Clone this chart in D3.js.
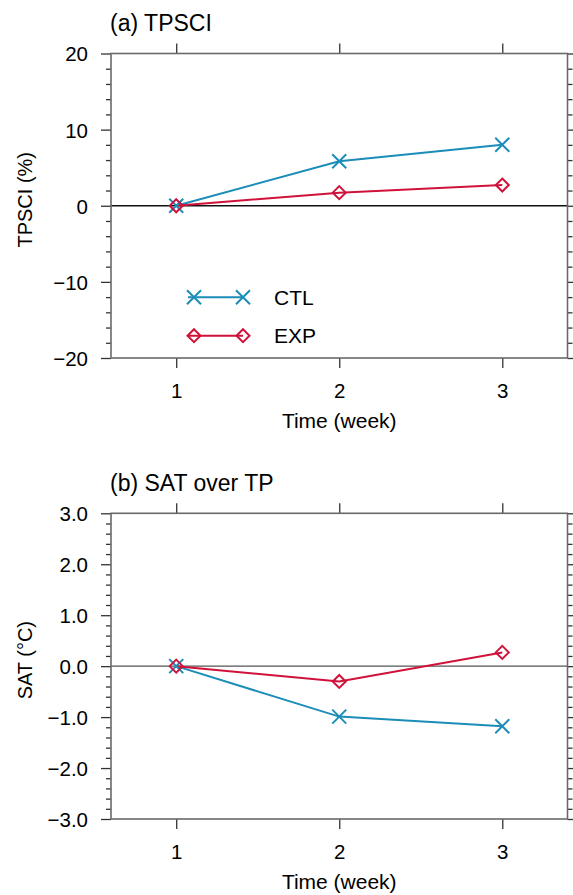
<!DOCTYPE html>
<html>
<head>
<meta charset="utf-8">
<script src="https://cdn.jsdelivr.net/npm/d3@7"></script>
<style>
  html, body { margin: 0; padding: 0; background: #fff; }
  svg { display: block; font-family: "Liberation Sans", Arial, Helvetica, sans-serif; }
</style>
</head>
<body>
<svg id="chart" width="573" height="895"></svg>
<script>
// ---------------- data ----------------
const weeks = [1, 2, 3];
const xTickLabels = ["1", "2", "3"];
const seriesNames = ["CTL", "EXP"];

const tpsciCTL = [0, 5.84, 8.02];
const tpsciEXP = [0, 1.72, 2.72];
const tpsciTicks = [-20, -10, 0, 10, 20];
const tpsciTickLabels = ["\u221220", "\u221210", "0", "10", "20"];

const satCTL = [0, -0.99, -1.18];
const satEXP = [0, -0.30, 0.27];
const satTicks = [-3, -2, -1, 0, 1, 2, 3];
const satTickLabels = ["\u22123.0", "\u22122.0", "\u22121.0", "0.0", "1.0", "2.0", "3.0"];

// ---------------- styles ----------------
const colCTL = "#1b8db8";
const colEXP = "#d0123b";
const frameCol = "#6a6a6a";
const tickCol = "#333";

const svg = d3.select("#chart");

const left = 111, right = 567.5;
const x = d3.scaleLinear().domain([0.6, 3.4]).range([left, right]);

function xMarker(g, cx, cy, color) {
  const s = 7;
  g.append("path")
    .attr("d", `M${cx - s},${cy - s}L${cx + s},${cy + s}M${cx - s},${cy + s}L${cx + s},${cy - s}`)
    .attr("stroke", color).attr("stroke-width", 2).attr("fill", "none");
}
function diamond(g, cx, cy, color) {
  const s = 6.5;
  g.append("path")
    .attr("d", `M${cx},${cy - s}L${cx + s},${cy}L${cx},${cy + s}L${cx - s},${cy}Z`)
    .attr("stroke", color).attr("stroke-width", 2).attr("fill", "none");
}

function panel(opts) {
  const { top, bottom, domain, ticks, tickLabels, minorStep, ctl, exp, title, ylabel, zeroCol, legend } = opts;
  const y = d3.scaleLinear().domain(domain).range([bottom, top]);
  const g = svg.append("g");

  const minors = d3.range(domain[0], domain[1] + 1e-9, minorStep)
    .filter(v => !ticks.some(t => Math.abs(t - v) < 1e-6));

  // zero line
  g.append("line")
    .attr("x1", left).attr("x2", right)
    .attr("y1", y(0)).attr("y2", y(0))
    .attr("stroke", zeroCol).attr("stroke-width", 1.3);

  // Left axis
  const yAxisL = d3.axisLeft(y).tickValues(ticks).tickSize(10).tickFormat((d, i) => tickLabels[i]);
  const gl = g.append("g").attr("transform", `translate(${left},0)`).call(yAxisL);
  gl.select(".domain").remove();
  gl.selectAll(".tick line").attr("stroke", tickCol).attr("stroke-width", 1.3);
  gl.selectAll(".tick text").attr("x", -23).attr("dy", "0.36em")
    .attr("font-size", 20.5).attr("fill", "#000")
    .attr("font-family", "'Liberation Sans', Arial, sans-serif");
  const gml = g.append("g").attr("transform", `translate(${left},0)`)
    .call(d3.axisLeft(y).tickValues(minors).tickSize(5).tickFormat(""));
  gml.select(".domain").remove();
  gml.selectAll(".tick line").attr("stroke", tickCol).attr("stroke-width", 1.3);

  // Right axis
  const gr = g.append("g").attr("transform", `translate(${right},0)`)
    .call(d3.axisRight(y).tickValues(ticks).tickSize(10).tickFormat(""));
  gr.select(".domain").remove();
  gr.selectAll(".tick line").attr("stroke", tickCol).attr("stroke-width", 1.3);
  const gmr = g.append("g").attr("transform", `translate(${right},0)`)
    .call(d3.axisRight(y).tickValues(minors).tickSize(5).tickFormat(""));
  gmr.select(".domain").remove();
  gmr.selectAll(".tick line").attr("stroke", tickCol).attr("stroke-width", 1.3);

  // Bottom axis
  const gb = g.append("g").attr("transform", `translate(0,${bottom})`)
    .call(d3.axisBottom(x).tickValues(weeks).tickSize(10).tickFormat((d, i) => xTickLabels[i]));
  gb.select(".domain").remove();
  gb.selectAll(".tick line").attr("stroke", tickCol).attr("stroke-width", 1.3);
  gb.selectAll(".tick text").attr("y", 40).attr("dy", 0)
    .attr("font-size", 20.5).attr("fill", "#000")
    .attr("font-family", "'Liberation Sans', Arial, sans-serif");

  // Top axis
  const gt = g.append("g").attr("transform", `translate(0,${top})`)
    .call(d3.axisTop(x).tickValues(weeks).tickSize(10).tickFormat(""));
  gt.select(".domain").remove();
  gt.selectAll(".tick line").attr("stroke", tickCol).attr("stroke-width", 1.3);

  // frame
  g.append("rect")
    .attr("x", left).attr("y", top)
    .attr("width", right - left).attr("height", bottom - top)
    .attr("fill", "none").attr("stroke", frameCol).attr("stroke-width", 1.6);

  // lines
  const line = d3.line().x((d, i) => x(weeks[i])).y(d => y(d));
  g.append("path").datum(ctl).attr("d", line)
    .attr("fill", "none").attr("stroke", colCTL).attr("stroke-width", 2);
  g.append("path").datum(exp).attr("d", line)
    .attr("fill", "none").attr("stroke", colEXP).attr("stroke-width", 2);
  ctl.forEach((v, i) => xMarker(g, x(weeks[i]), y(v), colCTL));
  exp.forEach((v, i) => diamond(g, x(weeks[i]), y(v), colEXP));

  // title
  g.append("text").attr("x", 110).attr("y", top - 22.5)
    .attr("font-size", 23).attr("fill", "#000").text(title);

  // x label
  g.append("text").attr("x", (left + right) / 2).attr("y", bottom + 69.5)
    .attr("text-anchor", "middle").attr("font-size", 21).attr("fill", "#000")
    .text("Time (week)");

  // y label
  g.append("text")
    .attr("transform", `translate(32,${(top + bottom) / 2 - 6}) rotate(-90)`)
    .attr("text-anchor", "middle").attr("font-size", 20).attr("fill", "#000")
    .text(ylabel);

  // legend
  if (legend) {
    const items = [
      { name: seriesNames[0], color: colCTL, mk: xMarker, yy: 297.3 },
      { name: seriesNames[1], color: colEXP, mk: diamond, yy: 335.7 }
    ];
    items.forEach(it => {
      g.append("line").attr("x1", 188).attr("x2", 243)
        .attr("y1", it.yy).attr("y2", it.yy)
        .attr("stroke", it.color).attr("stroke-width", 2);
      it.mk(g, 194, it.yy, it.color);
      it.mk(g, 243, it.yy, it.color);
      g.append("text").attr("x", 274).attr("y", it.yy + 7.5)
        .attr("font-size", 21).attr("fill", "#000").text(it.name);
    });
  }
}

panel({
  top: 53.5, bottom: 358, domain: [-20, 20],
  ticks: tpsciTicks, tickLabels: tpsciTickLabels, minorStep: 2,
  ctl: tpsciCTL, exp: tpsciEXP,
  title: "(a) TPSCI", ylabel: "TPSCI (%)", zeroCol: "#111", legend: true
});

panel({
  top: 513.3, bottom: 819, domain: [-3, 3],
  ticks: satTicks, tickLabels: satTickLabels, minorStep: 0.2,
  ctl: satCTL, exp: satEXP,
  title: "(b) SAT over TP", ylabel: "SAT (\u00b0C)", zeroCol: "#555", legend: false
});
</script>
</body>
</html>
